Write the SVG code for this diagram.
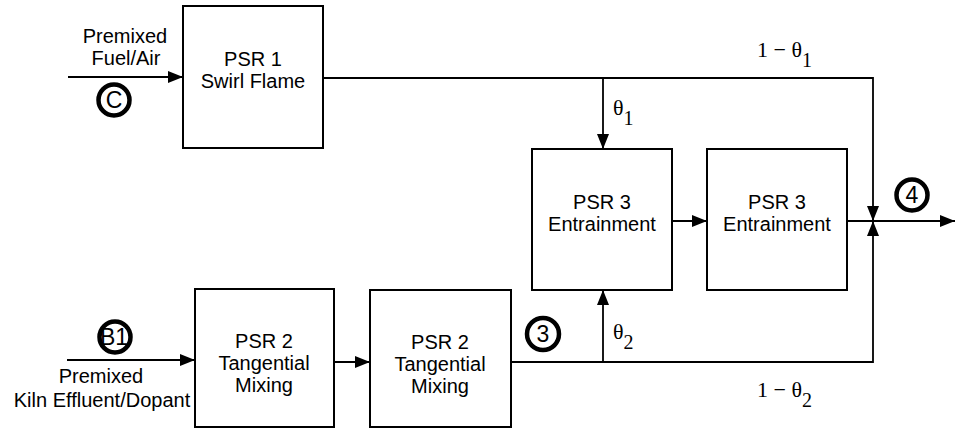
<svg xmlns="http://www.w3.org/2000/svg" width="956" height="429" viewBox="0 0 956 429">
<style>
.box{fill:#fff;stroke:#000;stroke-width:2}
.ln{fill:none;stroke:#000;stroke-width:1.8}
.t{font-family:"Liberation Sans",Arial,sans-serif;font-size:20px;fill:#000;text-anchor:middle}
.n{font-family:"Liberation Sans",Arial,sans-serif;font-size:23px;fill:#000;text-anchor:middle}
.g{font-family:"Liberation Serif","Times New Roman",serif;font-size:22px;fill:#000}
.c{fill:none;stroke:#000;stroke-width:4.5}
</style>
<defs>
<marker id="ah" markerUnits="userSpaceOnUse" markerWidth="15" markerHeight="12" refX="15" refY="6" orient="auto">
<path d="M0,0 L15,6 L0,12 z" fill="#000"/>
</marker>
</defs>
<rect width="956" height="429" fill="#fff"/>
<g id="connectors">
<path class="ln" d="M68,77 H183" marker-end="url(#ah)"/>
<path class="ln" d="M323,78 H873 V221" marker-end="url(#ah)"/>
<path class="ln" d="M603,78 V149" marker-end="url(#ah)"/>
<path class="ln" d="M672,221 H707" marker-end="url(#ah)"/>
<path class="ln" d="M847,221 H955" marker-end="url(#ah)"/>
<path class="ln" d="M67,360 H195" marker-end="url(#ah)"/>
<path class="ln" d="M334,362 H370" marker-end="url(#ah)"/>
<path class="ln" d="M511,362 H873 V221" marker-end="url(#ah)"/>
<path class="ln" d="M603,362 V290" marker-end="url(#ah)"/>
</g>
<g id="psr1">
<rect class="box" x="183" y="6" width="140" height="142"/>
<text class="t" x="253" y="66">PSR 1</text>
<text class="t" x="253" y="88">Swirl Flame</text>
</g>
<g id="psr3a">
<rect class="box" x="532" y="149" width="140" height="141"/>
<text class="t" x="602" y="209">PSR 3</text>
<text class="t" x="602" y="231">Entrainment</text>
</g>
<g id="psr3b">
<rect class="box" x="707" y="149" width="140" height="141"/>
<text class="t" x="777" y="209">PSR 3</text>
<text class="t" x="777" y="231">Entrainment</text>
</g>
<g id="psr2a">
<rect class="box" x="195" y="289" width="139" height="138"/>
<text class="t" x="264" y="348">PSR 2</text>
<text class="t" x="264" y="370">Tangential</text>
<text class="t" x="264" y="392">Mixing</text>
</g>
<g id="psr2b">
<rect class="box" x="370" y="290" width="141" height="137"/>
<text class="t" x="440" y="349">PSR 2</text>
<text class="t" x="440" y="371">Tangential</text>
<text class="t" x="440" y="393">Mixing</text>
</g>
<g id="inletC">
<text class="t" x="125" y="43">Premixed</text>
<text class="t" x="126" y="65">Fuel/Air</text>
<circle class="c" cx="114" cy="100" r="15.5"/>
<text class="n" x="114" y="108">C</text>
</g>
<g id="inletB1">
<circle class="c" cx="115" cy="337" r="15.5"/>
<text class="n" x="114" y="345">B1</text>
<text class="t" x="101" y="383">Premixed</text>
<text class="t" x="102" y="407">Kiln Effluent/Dopant</text>
</g>
<g id="point3">
<circle class="c" cx="543" cy="334" r="16"/>
<text class="n" x="543" y="342">3</text>
</g>
<g id="point4">
<circle class="c" cx="912" cy="195" r="15.5"/>
<text class="n" x="912" y="203">4</text>
</g>
<g id="labels">
<text class="g" x="613" y="115">θ<tspan font-size="20" dy="10">1</tspan></text>
<text class="g" x="613" y="339">θ<tspan font-size="20" dy="10">2</tspan></text>
<text class="g" x="757" y="57">1  − θ<tspan font-size="20" dy="10">1</tspan></text>
<text class="g" x="757" y="397">1 − θ<tspan font-size="20" dy="10">2</tspan></text>
</g>
</svg>
